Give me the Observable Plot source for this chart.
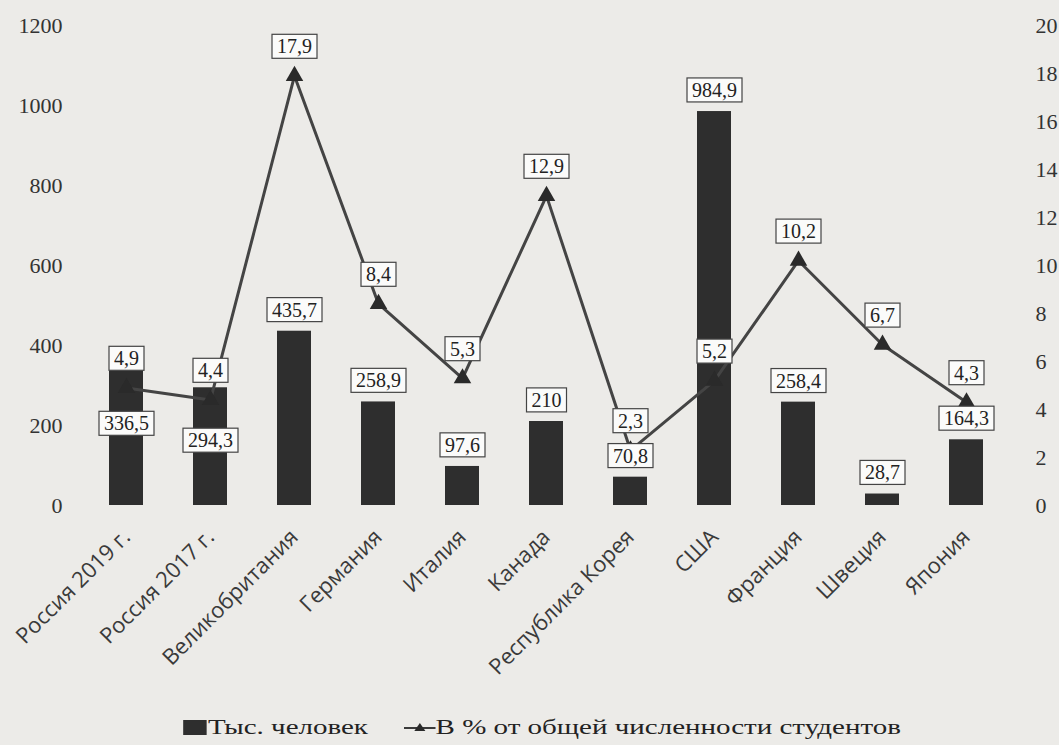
<!DOCTYPE html>
<html>
<head>
<meta charset="utf-8">
<script src="https://cdn.jsdelivr.net/npm/d3@7"></script>
<script src="https://cdn.jsdelivr.net/npm/@observablehq/plot@0.6"></script>
<style>
  html, body { margin: 0; padding: 0; background: #ecebe8; overflow: hidden; }
  #chart svg { display: block; }
  .legendwrap { width: 1059px; display: flex; justify-content: center; margin-left: 13px; }
  .legend { display: flex; align-items: center; gap: 26px; transform: scaleX(1.38); transform-origin: center;
    font-family: "Liberation Serif", serif; font-size: 21px; color: #222; margin-top: 17px; }
  .legend .item { display: flex; align-items: center; }
  .legend .sq { width: 17px; height: 15px; background: #2e2e2e; margin-right: 1px; }
</style>
</head>
<body>
<div id="chart"></div>
<div class="legendwrap"><div class="legend">
  <div class="item"><div class="sq"></div><span>Тыс. человек</span></div>
  <div class="item"><svg width="23" height="20"><line x1="0" y1="10" x2="23" y2="10" stroke="#3a3a3a" stroke-width="2"/><path d="M11.5,5 L15.5,13 L7.5,13 Z" fill="#2a2a2a"/></svg><span>В % от общей численности студентов</span></div>
</div></div>
<script>
const categories = ["Россия 2019 г.", "Россия 2017 г.", "Великобритания", "Германия", "Италия", "Канада", "Республика Корея", "США", "Франция", "Швеция", "Япония"];
const thousands = [336.5, 294.3, 435.7, 258.9, 97.6, 210, 70.8, 984.9, 258.4, 28.7, 164.3];
const percent = [4.9, 4.4, 17.9, 8.4, 5.3, 12.9, 2.3, 5.2, 10.2, 6.7, 4.3];
const leftTicks = [0, 200, 400, 600, 800, 1000, 1200];
const rightTicks = [0, 2, 4, 6, 8, 10, 12, 14, 16, 18, 20];

const ratio = 1200 / 20;
const fmt = v => String(v).replace(".", ",");
const rows = categories.map((c, i) => ({c, t: thousands[i], p: percent[i], i}));
const inside = rows.filter(d => d.i < 2);
const outside = rows.filter(d => d.i >= 2);

const serif = "Liberation Serif, Times New Roman, serif";

const chart = Plot.plot({
  width: 1059,
  height: 698,
  marginTop: 25,
  marginBottom: 193,
  marginLeft: 83,
  marginRight: 51,
  style: {background: "transparent", fontFamily: serif, color: "#333"},
  x: {domain: categories, paddingInner: 0.6, paddingOuter: 0.3, label: null},
  y: {domain: [0, 1200], label: null},
  marks: [
    Plot.axisY(leftTicks, {anchor: "left", tickSize: 0, tickPadding: 21, fontSize: 22, fill: "#333", label: null, tickFormat: d => String(d)}),
    Plot.axisY(rightTicks.map(v => v * ratio), {anchor: "right", tickSize: 0, tickPadding: 27, fontSize: 22, fill: "#333", label: null, tickFormat: d => String(d / ratio)}),
    Plot.axisX({tickSize: 0, tickRotate: -45, tickPadding: 28, fontSize: 22, fontFamily: "Open Sans, sans-serif", fill: "#3a3a3a", label: null}),
    Plot.barY(rows, {x: "c", y: "t", fill: "#2e2e2e"}),
    Plot.line(rows, {x: "c", y: d => d.p * ratio, stroke: "#444", strokeWidth: 3}),
    Plot.dot(rows, {x: "c", y: d => d.p * ratio, symbol: "triangle", r: 6.5, fill: "#2a2a2a"}),
    Plot.text(outside, {x: "c", y: "t", text: d => fmt(d.t), dy: -21, fontSize: 20, fill: "#222"}),
    Plot.text(inside, {x: "c", y: "t", text: d => fmt(d.t), dy: 53, fontSize: 20, fill: "#222"}),
    Plot.text(rows, {x: "c", y: d => d.p * ratio, text: d => fmt(d.p), dy: -29, fontSize: 20, fill: "#222"})
  ]
});
document.getElementById("chart").append(chart);

// white boxes with a thin border behind each value label
d3.select(chart).selectAll('g[aria-label="text"] text').each(function() {
  const b = this.getBBox();
  const tr = this.getAttribute("transform");
  const r = document.createElementNS("http://www.w3.org/2000/svg", "rect");
  r.setAttribute("x", b.x - 5);
  r.setAttribute("y", b.y - 1);
  r.setAttribute("width", b.width + 10);
  r.setAttribute("height", b.height + 2);
  r.setAttribute("fill", "#fbfbfa");
  r.setAttribute("stroke", "#444");
  r.setAttribute("stroke-width", "1.2");
  if (tr) r.setAttribute("transform", tr);
  this.parentNode.insertBefore(r, this);
});
</script>
</body>
</html>
